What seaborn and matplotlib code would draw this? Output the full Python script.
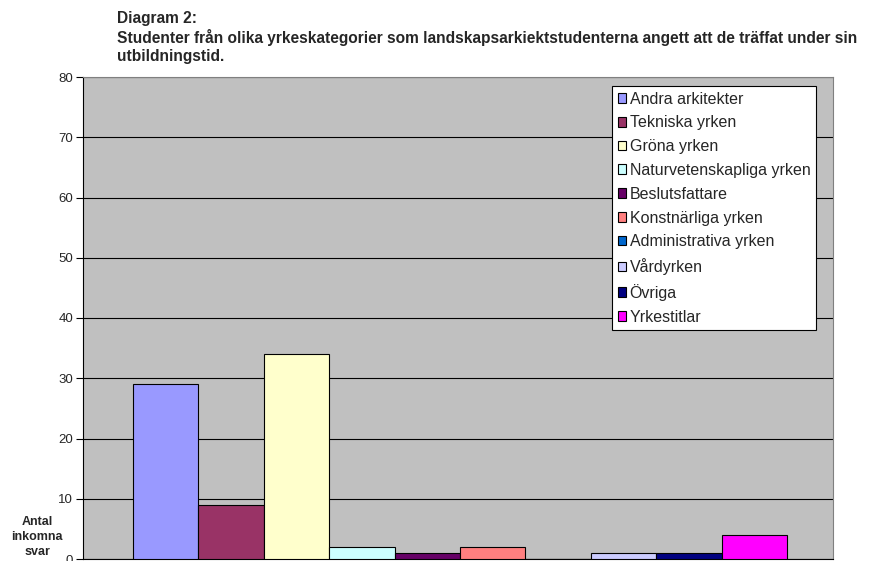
import pandas as pd
import seaborn as sns
import matplotlib.pyplot as plt
from matplotlib.patches import Patch

kategorier = ['Andra arkitekter', 'Tekniska yrken', 'Gröna yrken',
              'Naturvetenskapliga yrken', 'Beslutsfattare', 'Konstnärliga yrken',
              'Administrativa yrken', 'Vårdyrken', 'Övriga', 'Yrkestitlar']
antal = [29, 9, 34, 2, 1, 2, 0, 1, 1, 4]
farger = ['#9999FF', '#993366', '#FFFFCC', '#CCFFFF', '#660066',
          '#FF8080', '#0066CC', '#CCCCFF', '#000080', '#FF00FF']
yticks = [0, 10, 20, 30, 40, 50, 60, 70, 80]

df = pd.DataFrame({'kategori': kategorier, 'antal': antal})
palett = dict(zip(kategorier, farger))

sns.set_style('white')
plt.rcParams['font.family'] = ['Liberation Sans', 'DejaVu Sans']

fig = plt.figure(figsize=(8.75, 5.61), dpi=100)
ax = fig.add_axes([83 / 875, 1 - 559 / 561, 750 / 875, (559 - 77) / 561])
ax.set_facecolor('#C0C0C0')

sns.barplot(data=df, x='kategori', y='antal', hue='kategori', palette=palett,
            saturation=1, width=1.0, edgecolor='black', linewidth=0.8,
            legend=False, ax=ax, zorder=3)

ax.set_xlim(-0.5 - 50 / 65.4, 9.5 + 46 / 65.4)
ax.set_ylim(0, 80)
ax.set_yticks(yticks)
ax.set_yticklabels([str(t) for t in yticks], fontsize=9.5)
ax.yaxis.grid(True, color='black', linewidth=0.8, zorder=0)
ax.set_axisbelow(True)
ax.set_xticks([])
ax.set_xlabel('')
ax.set_ylabel('')
ax.tick_params(axis='y', direction='out', length=5, width=0.8, color='black',
               left=True, pad=2)
for side in ['top', 'right']:
    ax.spines[side].set_color('#808080')
    ax.spines[side].set_linewidth(0.8)
for side in ['left', 'bottom']:
    ax.spines[side].set_color('black')
    ax.spines[side].set_linewidth(0.8)

fig.text(37 / 875, 1 - 537 / 561, 'Antal\ninkomna\nsvar', ha='center', va='center',
         fontsize=9, fontweight='bold', linespacing=1.35)

fig.text(117 / 875, 1 - 18 / 561, 'Diagram 2:', ha='left', va='center',
         fontsize=11.2, fontweight='bold')
fig.text(117 / 875, 1 - 38 / 561,
         'Studenter från olika yrkeskategorier som landskapsarkiektstudenterna angett att de träffat under sin',
         ha='left', va='center', fontsize=11.2, fontweight='bold')
fig.text(117 / 875, 1 - 57 / 561, 'utbildningstid.', ha='left', va='center',
         fontsize=11.2, fontweight='bold')

handles = [Patch(facecolor=c, edgecolor='black', linewidth=0.8) for c in farger]
leg = ax.legend(handles, kategorier, loc='upper left',
                bbox_to_anchor=(612 / 875, 1 - 86 / 561),
                bbox_transform=fig.transFigure, fontsize=11.5,
                frameon=True, fancybox=False, framealpha=1,
                edgecolor='black', handlelength=0.55, handleheight=0.55,
                handletextpad=0.2, labelspacing=0.55, borderpad=0.35,
                borderaxespad=0)
leg.get_frame().set_linewidth(0.8)
leg.set_zorder(5)

fig.savefig('out.png', dpi=100)
